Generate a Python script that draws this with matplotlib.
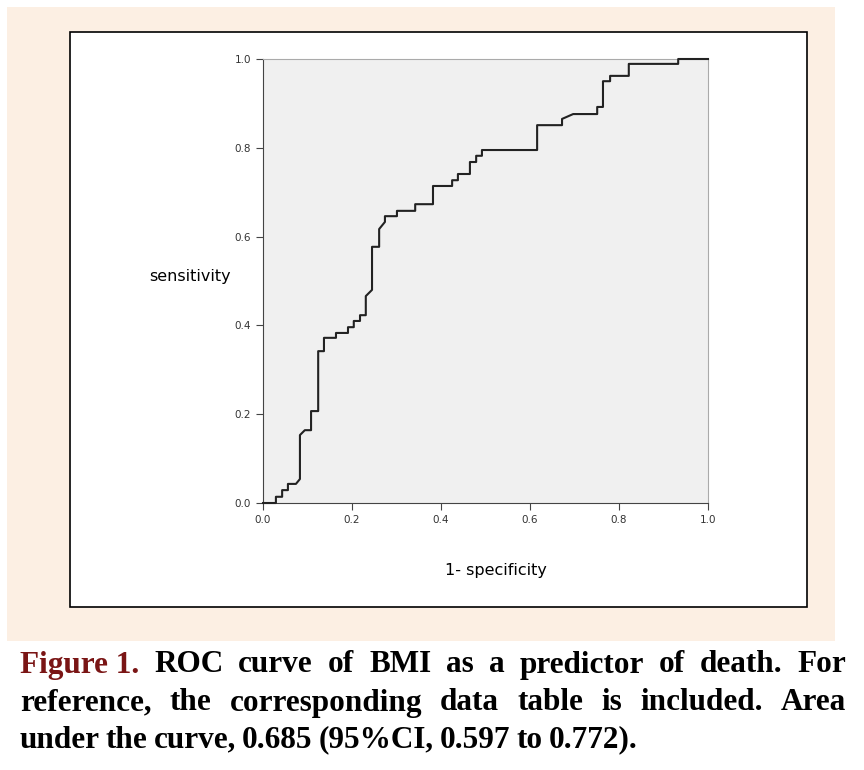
import matplotlib
matplotlib.use("Agg")
import matplotlib.pyplot as plt
from matplotlib.patches import Rectangle

fpr = [0, 0.029, 0.029, 0.043, 0.043, 0.056, 0.056, 0.074, 0.083, 0.083, 0.094, 0.108, 0.108, 0.124, 0.124,
       0.137, 0.137, 0.164, 0.164, 0.191, 0.191, 0.204, 0.204, 0.218, 0.218, 0.231, 0.231, 0.245, 0.245,
       0.261, 0.261, 0.274, 0.274, 0.301, 0.301, 0.342, 0.342, 0.382, 0.382, 0.425, 0.425, 0.438, 0.438,
       0.465, 0.465, 0.479, 0.479, 0.492, 0.492, 0.616, 0.616, 0.672, 0.672, 0.697, 0.751, 0.751, 0.764,
       0.764, 0.780, 0.780, 0.822, 0.822, 0.933, 0.933, 1.0]
tpr = [0, 0, 0.014, 0.014, 0.029, 0.029, 0.043, 0.043, 0.054, 0.153, 0.164, 0.164, 0.207, 0.207, 0.342,
       0.342, 0.372, 0.372, 0.383, 0.383, 0.396, 0.396, 0.410, 0.410, 0.423, 0.423, 0.466, 0.480, 0.577,
       0.577, 0.617, 0.633, 0.646, 0.646, 0.658, 0.658, 0.673, 0.673, 0.714, 0.714, 0.727, 0.727, 0.741,
       0.741, 0.768, 0.768, 0.782, 0.782, 0.795, 0.795, 0.851, 0.851, 0.865, 0.876, 0.876, 0.892, 0.892,
       0.950, 0.950, 0.962, 0.962, 0.989, 0.989, 1.0, 1.0]
ticks = [0.0, 0.2, 0.4, 0.6, 0.8, 1.0]
tick_labels = ["0.0", "0.2", "0.4", "0.6", "0.8", "1.0"]

W, H = 864, 770
fig = plt.figure(figsize=(8.64, 7.7), dpi=100)
fig.patch.set_facecolor("white")

def px_rect(x0, y0, x1, y1, **kw):
    fig.patches.append(Rectangle((x0 / W, 1 - y1 / H), (x1 - x0) / W, (y1 - y0) / H,
                                 transform=fig.transFigure, **kw))

px_rect(7, 7, 835, 641, facecolor="#fcefe3", edgecolor="none", zorder=0)
px_rect(70, 32, 807, 607, facecolor="white", edgecolor="black", linewidth=1.2, zorder=1)

ax = fig.add_axes([263 / W, 1 - 503 / H, 445 / W, 444 / H], zorder=2)
ax.set_facecolor("#f0f0f0")
ax.plot(fpr, tpr, color="#222222", linewidth=1.5, clip_on=False, zorder=5)
ax.set_xlim(0, 1)
ax.set_ylim(0, 1)
ax.set_xticks(ticks)
ax.set_xticklabels(tick_labels)
ax.set_yticks(ticks)
ax.set_yticklabels(tick_labels)
ax.tick_params(labelsize=7.5, length=5, color="#444444", labelcolor="#333333")
for s in ["top", "right"]:
    ax.spines[s].set_color("#aaaaaa")
for s in ["left", "bottom"]:
    ax.spines[s].set_color("#444444")

fig.text(190 / W, 1 - 276 / H, "sensitivity", ha="center", va="center", fontsize=11.5, color="black")
fig.text(496 / W, 1 - 571 / H, "1- specificity", ha="center", va="center", fontsize=11.5, color="black")

lines = [
    [("Figure 1.", "#7a1515"), ("ROC", "black"), ("curve", "black"), ("of", "black"), ("BMI", "black"),
     ("as", "black"), ("a", "black"), ("predictor", "black"), ("of", "black"), ("death.", "black"), ("For", "black")],
    [(w, "black") for w in "reference, the corresponding data table is included. Area".split()],
    [(w, "black") for w in "under the curve, 0.685 (95%CI, 0.597 to 0.772).".split()],
]
ys = [665, 703, 740]
x_left, x_right = 20, 846
fig.canvas.draw()
r = fig.canvas.get_renderer()
for li, (words, y) in enumerate(zip(lines, ys)):
    texts = []
    for w, c in words:
        t = fig.text(0, 1 - y / H, w, fontsize=22.5, fontweight="bold", family="Liberation Serif",
                     color=c, va="center", ha="left")
        texts.append(t)
    widths = [t.get_window_extent(r).width for t in texts]
    if li < 2:
        gap = (x_right - x_left - sum(widths)) / (len(words) - 1)
    else:
        gap = 6
    x = x_left
    for t, wd in zip(texts, widths):
        t.set_x(x / W)
        x += wd + gap

fig.savefig("out.png", dpi=100)
